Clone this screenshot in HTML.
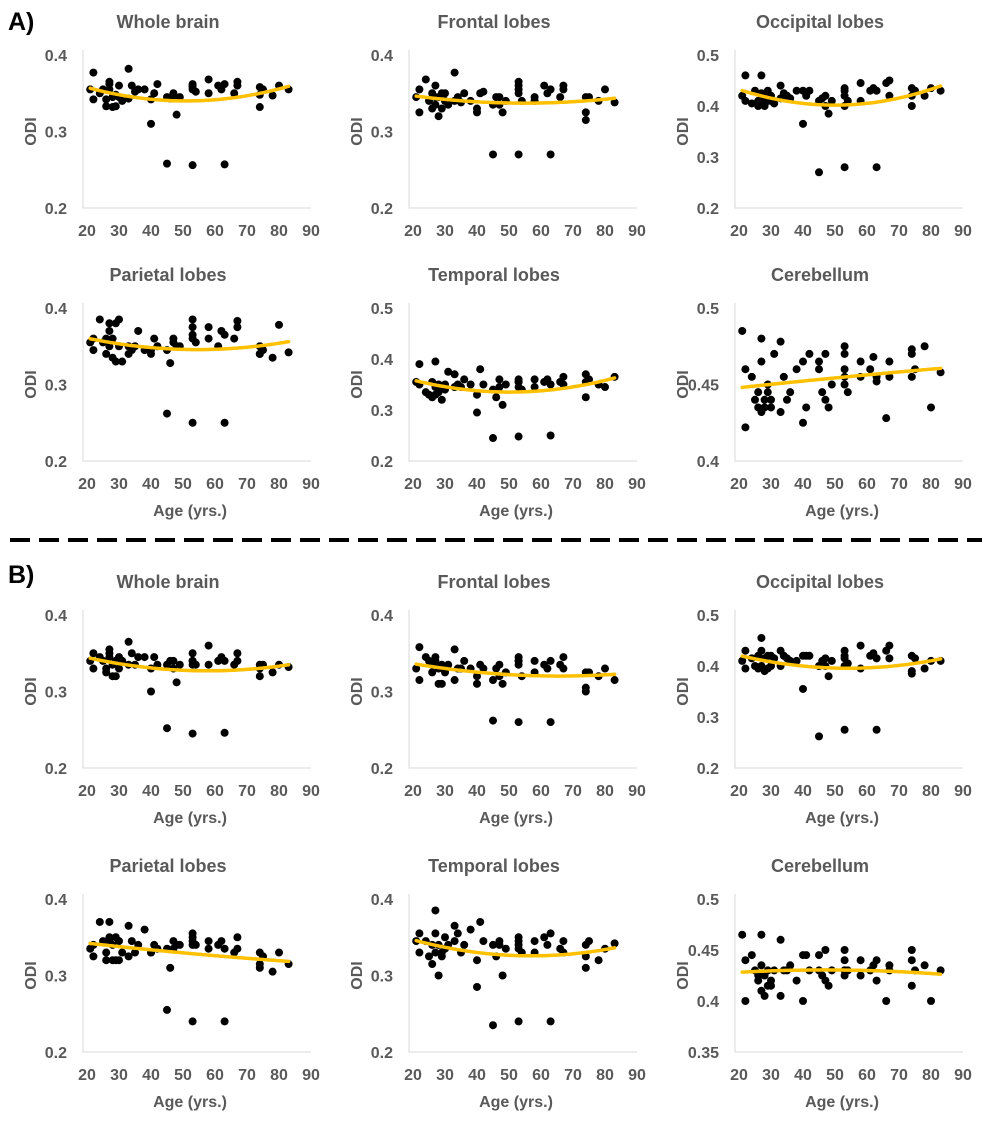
<!DOCTYPE html>
<html><head><meta charset="utf-8"><style>
html,body{margin:0;padding:0;background:#fff;}
svg{display:block;font-family:"Liberation Sans",sans-serif;}
</style></head><body>
<svg id="fig" width="989" height="1133" viewBox="0 0 989 1133"></svg>
<script>
const ages=[21,22,22,24,25,26,26,27,27,27,28,28,29,29,30,30,31,33,33,34,35,36,38,40,40,41,42,45,45,46,47,47,48,49,53,53,53,53,53,54,58,58,61,62,63,63,66,67,67,74,74,74,75,78,80,83];
const xTicks=[20,30,40,50,60,70,80,90];
const aWhole=[.355,.377,.342,.35,.355,.342,.333,.362,.365,.355,.332,.345,.333,.348,.360,.345,.340,.382,.343,.360,.352,.355,.355,.342,.310,.350,.362,.345,.258,.343,.350,.343,.322,.345,.256,.36,.355,.362,.358,.352,.368,.35,.36,.355,.362,.257,.35,.365,.36,.358,.348,.332,.355,.347,.36,.355];
const aFrontal=[.345,.355,.325,.368,.34,.35,.33,.36,.345,.335,.32,.345,.33,.35,.34,.35,.335,.377,.34,.345,.338,.35,.34,.325,.33,.35,.352,.335,.27,.345,.335,.345,.325,.34,.27,.365,.355,.35,.36,.34,.345,.34,.36,.35,.355,.27,.345,.36,.355,.345,.325,.315,.345,.34,.355,.338];
const aOccipital=[.42,.46,.41,.405,.43,.40,.41,.46,.425,.41,.40,.42,.41,.43,.42,.41,.405,.44,.415,.425,.42,.415,.43,.43,.365,.42,.43,.41,.27,.415,.42,.40,.385,.41,.28,.43,.42,.40,.435,.41,.445,.41,.43,.435,.43,.28,.445,.45,.42,.435,.42,.40,.43,.42,.435,.43];
const aParietal=[.355,.36,.345,.385,.355,.34,.36,.37,.38,.35,.335,.36,.33,.38,.385,.35,.33,.35,.34,.345,.35,.37,.345,.34,.345,.36,.35,.345,.262,.328,.36,.355,.35,.35,.25,.385,.365,.36,.375,.355,.375,.36,.35,.37,.365,.25,.36,.375,.383,.35,.34,.34,.345,.335,.378,.342];
const aTemporal=[.355,.39,.35,.335,.33,.355,.325,.395,.345,.33,.335,.35,.32,.345,.34,.35,.375,.37,.345,.35,.345,.36,.35,.33,.295,.38,.35,.34,.245,.325,.345,.36,.31,.35,.248,.36,.345,.355,.355,.34,.36,.345,.355,.36,.35,.25,.355,.365,.35,.355,.325,.37,.36,.35,.345,.365];
const aCereb=[.485,.46,.422,.455,.44,.445,.435,.48,.465,.432,.435,.44,.45,.445,.435,.44,.47,.478,.432,.455,.44,.445,.46,.465,.425,.435,.47,.465,.46,.445,.47,.44,.435,.45,.47,.45,.455,.46,.475,.445,.465,.455,.46,.468,.455,.452,.428,.455,.465,.455,.47,.473,.46,.475,.435,.458];
const bWhole=[.34,.35,.33,.345,.34,.325,.33,.35,.355,.345,.32,.335,.32,.34,.345,.33,.34,.365,.335,.35,.335,.345,.345,.33,.30,.345,.335,.335,.252,.34,.34,.33,.312,.335,.245,.35,.34,.335,.34,.335,.36,.335,.34,.345,.34,.246,.335,.35,.34,.335,.32,.33,.335,.325,.335,.332];
const bFrontal=[.33,.358,.315,.345,.34,.335,.325,.345,.34,.335,.31,.33,.31,.335,.33,.325,.335,.355,.315,.33,.33,.34,.33,.31,.32,.335,.33,.315,.262,.33,.335,.32,.31,.325,.26,.345,.34,.335,.34,.32,.34,.325,.335,.33,.34,.26,.335,.345,.33,.325,.305,.30,.325,.32,.33,.315];
const bOccipital=[.41,.43,.395,.415,.40,.395,.42,.455,.43,.40,.39,.415,.395,.42,.42,.40,.415,.43,.40,.42,.415,.41,.41,.42,.355,.42,.42,.40,.262,.41,.415,.40,.38,.41,.275,.43,.42,.40,.415,.405,.44,.395,.42,.425,.415,.275,.43,.44,.415,.42,.39,.385,.415,.395,.41,.41];
const bParietal=[.335,.34,.325,.37,.345,.33,.32,.37,.35,.345,.32,.34,.32,.35,.345,.32,.33,.365,.325,.345,.33,.34,.36,.33,.33,.34,.335,.335,.255,.31,.345,.335,.34,.34,.24,.355,.345,.34,.35,.34,.345,.335,.34,.345,.335,.24,.33,.35,.335,.33,.31,.315,.325,.305,.33,.315];
const bTemporal=[.345,.355,.33,.345,.325,.34,.315,.385,.355,.33,.30,.34,.325,.33,.35,.335,.34,.365,.345,.355,.33,.34,.36,.32,.285,.37,.345,.34,.235,.325,.345,.34,.30,.335,.24,.35,.34,.335,.345,.33,.345,.33,.35,.34,.355,.24,.335,.345,.33,.34,.31,.325,.345,.32,.335,.342];
const bCereb=[.465,.44,.40,.445,.43,.42,.425,.435,.465,.41,.405,.425,.415,.43,.42,.415,.43,.46,.405,.43,.43,.435,.42,.445,.40,.445,.43,.445,.43,.425,.45,.42,.415,.43,.44,.43,.425,.43,.45,.43,.44,.425,.43,.435,.44,.42,.40,.435,.43,.44,.415,.45,.43,.435,.40,.43];
const titles=["Whole brain","Frontal lobes","Occipital lobes","Parietal lobes","Temporal lobes","Cerebellum"];
const yTicksA=[[0.2,0.3,0.4],[0.2,0.3,0.4],[0.2,0.3,0.4,0.5],[0.2,0.3,0.4],[0.2,0.3,0.4,0.5],[0.4,0.45,0.5]];
const yTicksB=[[0.2,0.3,0.4],[0.2,0.3,0.4],[0.2,0.3,0.4,0.5],[0.2,0.3,0.4],[0.2,0.3,0.4],[0.35,0.4,0.45,0.5]];
const seriesA=[aWhole,aFrontal,aOccipital,aParietal,aTemporal,aCereb];
const seriesB=[bWhole,bFrontal,bOccipital,bParietal,bTemporal,bCereb];

const NS="http://www.w3.org/2000/svg";
const svg=document.getElementById('fig');
function mk(tag,attrs,parent,text){const e=document.createElementNS(NS,tag);for(const k in attrs)e.setAttribute(k,attrs[k]);if(text!==undefined)e.textContent=text;(parent||svg).appendChild(e);return e;}
function fmt(v){return String(+v.toFixed(2));}
function fitQuad(xs,ys){let S=[0,0,0,0,0],T=[0,0,0];for(let i=0;i<xs.length;i++){const x=xs[i],y=ys[i];let p=1;for(let k=0;k<5;k++){S[k]+=p;if(k<3)T[k]+=p*y;p*=x;}}
const A=[[S[0],S[1],S[2],T[0]],[S[1],S[2],S[3],T[1]],[S[2],S[3],S[4],T[2]]];
for(let i=0;i<3;i++){for(let j=i+1;j<3;j++){const f=A[j][i]/A[i][i];for(let k=i;k<4;k++)A[j][k]-=f*A[i][k];}}
const c=[0,0,0];for(let i=2;i>=0;i--){let s=A[i][3];for(let k=i+1;k<3;k++)s-=A[i][k]*c[k];c[i]=s/A[i][i];}return c;}

function panel(ox,oy,title,yt,vals,showX,key){
  const g=mk('g',{},svg);
  
  
  const ymin=yt[0],ymax=yt[yt.length-1];
  const yb=oy+208,ytop=oy+55;
  const X=v=>ox+87+(v-20)*3.2;
  const Y=v=>yb-(v-ymin)/(ymax-ymin)*(yb-ytop);
  const t=mk('text',{x:ox+168,y:oy+28,'text-anchor':'middle','font-size':18,'font-weight':'bold',fill:'#595959'},g,title);
  
  const ax=mk('path',{d:`M${ox+83},${ytop-5}V${yb}H${X(90)}`,stroke:'#d9d9d9','stroke-width':1,fill:'none'},g);
  
  yt.forEach(v=>{const l=mk('text',{x:ox+67,y:Y(v)+6,'text-anchor':'end','font-size':16,'font-weight':'bold',fill:'#595959'},g,fmt(v));
    });
  xTicks.forEach(v=>{const l=mk('text',{x:X(v),y:yb+28,'text-anchor':'middle','font-size':16,'font-weight':'bold',fill:'#595959'},g,String(v));
    });
  const yl=mk('text',{x:0,y:0,transform:`translate(${ox+36},${(yb+ytop)/2}) rotate(-90)`,'text-anchor':'middle','font-size':16,'font-weight':'bold',fill:'#595959'},g,'ODI');
  
  if(showX){const xl=mk('text',{x:ox+190,y:oy+263,'text-anchor':'middle','font-size':16,'font-weight':'bold',fill:'#595959'},g,'Age (yrs.)');
    }
  vals.forEach((v,i)=>{const c=mk('circle',{cx:X(ages[i]),cy:Y(v),r:4,fill:'#000'},g);
    });
  const c=fitQuad(ages,vals);let d='';
  const a0=Math.min(...ages),a1=Math.max(...ages);
  for(let a=a0;a<=a1+0.001;a+=0.5){const y=c[0]+c[1]*a+c[2]*a*a;d+=(d?'L':'M')+X(a).toFixed(1)+','+Y(y).toFixed(1);}
  const tl=mk('path',{d:d,stroke:'#ffc000','stroke-width':3.5,fill:'none','stroke-linecap':'round'},g);
  
}
const cols=[0,326,652];
const rowsA=[0,253],rowsB=[560,844];
for(let i=0;i<6;i++){
  const r=Math.floor(i/3),cI=i%3;
  panel(cols[cI],rowsA[r],titles[i],yTicksA[i],seriesA[i],r===1,'a-'+titles[i].toLowerCase().replace(/ /g,'-'));
  panel(cols[cI],rowsB[r],titles[i],yTicksB[i],seriesB[i],true,'b-'+titles[i].toLowerCase().replace(/ /g,'-'));
}
const la=mk('text',{x:8,y:30,'font-size':25,'font-weight':'bold',fill:'#000'},svg,'A)');

const lb=mk('text',{x:8,y:583,'font-size':25,'font-weight':'bold',fill:'#000'},svg,'B)');

const dl=mk('line',{x1:10,y1:540,x2:982,y2:540,stroke:'#000','stroke-width':4,'stroke-dasharray':'20 9'},svg);

</script>
</body></html>
